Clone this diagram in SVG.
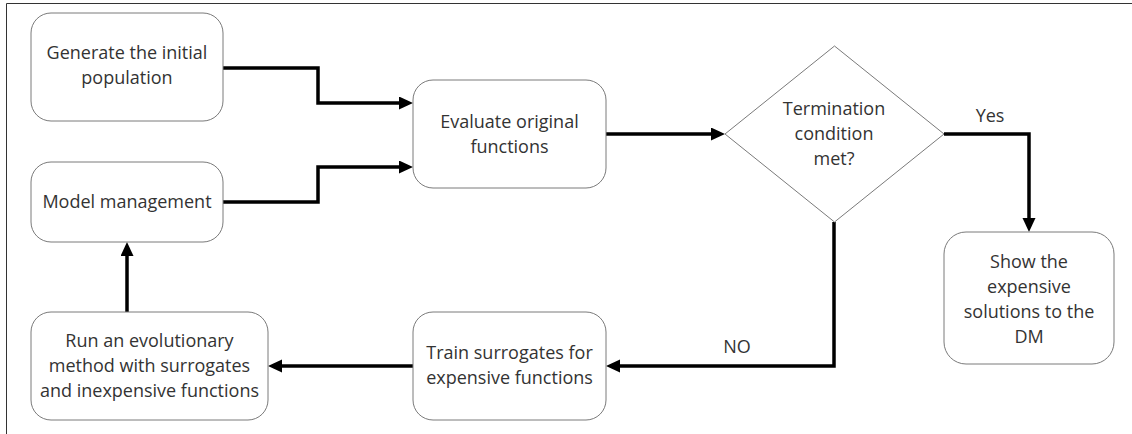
<svg xmlns="http://www.w3.org/2000/svg" width="1132" height="434" viewBox="0 0 1132 434">
  <style>
    .box { fill: #ffffff; stroke: #7a7a7a; stroke-width: 1; }
    .lbl { font-family: "Open Sans", "Liberation Sans", sans-serif; font-size: 18px; fill: #333333; text-anchor: middle; }
    .conn { fill: none; stroke: #000000; stroke-width: 3.5; }
    .frame { fill: none; stroke: #333333; stroke-width: 1; }
  </style>
  <defs>
    <marker id="arrow" markerUnits="userSpaceOnUse" markerWidth="14" markerHeight="14" refX="0" refY="6.5" orient="auto">
      <path d="M0,0 L14,6.5 L0,13 z" fill="#000000"/>
    </marker>
  </defs>
  <rect width="1132" height="434" fill="#ffffff"/>
  <path class="frame" d="M6.5,434 V3.5 H1132"/>

  <g id="connectors">
    <path class="conn" d="M223,68 H318 V103 H399" marker-end="url(#arrow)"/>
    <path class="conn" d="M223,202 H318 V167 H399" marker-end="url(#arrow)"/>
    <path class="conn" d="M606,134 H711" marker-end="url(#arrow)"/>
    <path class="conn" d="M944,134 H1029 V218" marker-end="url(#arrow)"/>
    <path class="conn" d="M834,222 V366 H620" marker-end="url(#arrow)"/>
    <path class="conn" d="M413,366 H282" marker-end="url(#arrow)"/>
    <path class="conn" d="M127,312 V256" marker-end="url(#arrow)"/>
    <text class="lbl" x="990" y="122">Yes</text>
    <text class="lbl" x="737" y="353">NO</text>
  </g>

  <g id="generate">
    <rect class="box" x="31" y="13" width="192" height="108" rx="20"/>
    <text class="lbl" x="127" y="59">Generate the initial</text>
    <text class="lbl" x="127" y="84">population</text>
  </g>

  <g id="model">
    <rect class="box" x="31" y="162" width="192" height="80" rx="20"/>
    <text class="lbl" x="127" y="208">Model management</text>
  </g>

  <g id="evaluate">
    <rect class="box" x="413" y="80" width="193" height="108" rx="20"/>
    <text class="lbl" x="509.5" y="128">Evaluate original</text>
    <text class="lbl" x="509.5" y="153">functions</text>
  </g>

  <g id="termination">
    <polygon class="box" points="725,134 834.5,46 944,134 834.5,222"/>
    <text class="lbl" x="834" y="115">Termination</text>
    <text class="lbl" x="834" y="140">condition</text>
    <text class="lbl" x="834" y="165">met?</text>
  </g>

  <g id="show">
    <rect class="box" x="944" y="232" width="170" height="132" rx="22"/>
    <text class="lbl" x="1029" y="268">Show the</text>
    <text class="lbl" x="1029" y="293">expensive</text>
    <text class="lbl" x="1029" y="318">solutions to the</text>
    <text class="lbl" x="1029" y="343">DM</text>
  </g>

  <g id="train">
    <rect class="box" x="413" y="312" width="193" height="108" rx="20"/>
    <text class="lbl" x="509.5" y="359">Train surrogates for</text>
    <text class="lbl" x="509.5" y="384">expensive functions</text>
  </g>

  <g id="run">
    <rect class="box" x="31" y="312" width="237" height="108" rx="20"/>
    <text class="lbl" x="149.5" y="347">Run an evolutionary</text>
    <text class="lbl" x="149.5" y="372">method with surrogates</text>
    <text class="lbl" x="149.5" y="397">and inexpensive functions</text>
  </g>
</svg>
